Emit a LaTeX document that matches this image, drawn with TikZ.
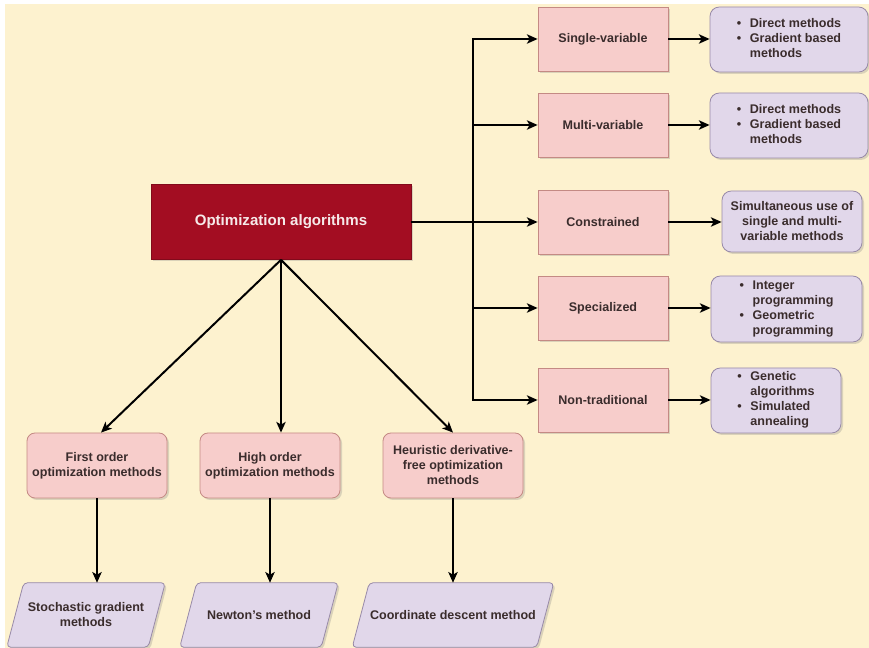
\documentclass[tikz,border=0pt]{standalone}
\usepackage{fontspec}
\setmainfont{Liberation Sans}
\usetikzlibrary{arrows.meta,shapes.geometric,shadows,calc}

\definecolor{bgyellow}{HTML}{FDF2CF}
\definecolor{mainred}{HTML}{A30D22}
\definecolor{maintext}{HTML}{F6E9E9}
\definecolor{pinkfill}{HTML}{F7CDCB}
\definecolor{pinkline}{HTML}{C48A84}
\definecolor{lilacfill}{HTML}{E1D7EA}
\definecolor{lilacline}{HTML}{988AA8}
\definecolor{txt}{HTML}{3A2C2C}

% bullet list used inside the lilac boxes
\newcommand{\itemlist}[1]{\begin{tabular}{@{}c@{\hspace{6.5pt}}l@{}}#1\end{tabular}}
\newcommand{\bul}{\textbullet}

\pgfdeclarelayer{page}
\pgfdeclarelayer{shapes}
\pgfsetlayers{page,shapes,main}

\begin{document}
\begin{tikzpicture}[x=0.75pt,y=-0.75pt,
  every node/.style={font=\bfseries\fontsize{9.4}{11.25}\selectfont, text=txt,
    inner sep=0pt, align=center},
  softshadow/.style={drop shadow={opacity=0.28,shadow xshift=1.5pt,shadow yshift=-1.5pt}},
  rootbox/.style={rectangle, fill=mainred, draw=mainred!80!black, line width=0.5pt,
    softshadow, minimum width=195pt, minimum height=56.25pt, text=maintext,
    font=\bfseries\fontsize{11.3}{13}\selectfont},
  catbox/.style={rectangle, draw=pinkline, fill=pinkfill, line width=0.6pt, softshadow,
    minimum width=97.5pt, minimum height=48pt},
  orderbox/.style={rectangle, rounded corners=6pt, draw=pinkline, fill=pinkfill,
    line width=0.6pt, softshadow, minimum width=105pt, minimum height=48.75pt},
  listbox/.style={rectangle, rounded corners=7pt, draw=lilacline, fill=lilacfill,
    line width=0.6pt, softshadow, minimum height=48.75pt},
  methodbox/.style={rectangle, minimum height=48pt},
  slanted/.style={draw=lilacline, fill=lilacfill, line width=0.6pt, rounded corners=3pt,
    softshadow},
  link/.style={line width=1.5pt, black},
  arrowlink/.style={link, -{Stealth[length=8pt,width=7pt,inset=2pt]}}
]
% page background
\useasboundingbox (0,0) rectangle (869,648);
\begin{pgfonlayer}{page}
  \fill[white] (0,0) rectangle (869,648);
  \fill[bgyellow] (5,4) rectangle (869,648);
\end{pgfonlayer}

% root
\node[rootbox] (root) at (281,222) {Optimization algorithms};

% problem categories
\node[catbox] (single) at (603,39)  {Single-variable};
\node[catbox] (multi)  at (603,125) {Multi-variable};
\node[catbox] (constr) at (603,222) {Constrained};
\node[catbox] (spec)   at (603,308) {Specialized};
\node[catbox] (nontr)  at (603,400) {Non-traditional};

% methods per category
\node[listbox, minimum width=118.5pt] (singlem) at (789,39.5)
  {\itemlist{\bul & Direct methods\\ \bul & Gradient based\\ & methods}};
\node[listbox, minimum width=118.5pt] (multim) at (789,125.5)
  {\itemlist{\bul & Direct methods\\ \bul & Gradient based\\ & methods}};
\node[listbox, minimum width=105pt, minimum height=45.75pt] (constrm) at (792,221.5)
  {Simultaneous use of\\single and multi-\\variable methods};
\node[listbox, minimum width=113.25pt, minimum height=49.5pt] (specm) at (786.5,309)
  {\itemlist{\bul & Integer\\ & programming\\ \bul & Geometric\\ & programming}};
\node[listbox, minimum width=97.5pt] (nontrm) at (776,400.5)
  {\itemlist{\bul & Genetic\\ & algorithms\\ \bul & Simulated\\ & annealing}};

% order-based families
\node[orderbox] (first) at (97,465.5)  {First order\\optimization methods};
\node[orderbox] (high)  at (270,465.5) {High order\\optimization methods};
\node[orderbox] (heur)  at (453,465.5) {Heuristic derivative-\\free optimization\\methods};

% representative methods (text nodes; slanted outlines drawn below them)
\node[methodbox, minimum width=105.75pt] (sgd)    at (86,615)  {Stochastic gradient\\methods};
\node[methodbox, minimum width=105.75pt] (newton) at (259,615) {Newton's method};
\node[methodbox, minimum width=138pt]    (coord)  at (453,615) {Coordinate descent method};

\begin{pgfonlayer}{shapes}
  \foreach \m in {sgd,newton,coord}{
    \draw[slanted] ($(\m.south west)+(-8.5,0)$) -- ($(\m.north west)+(8.5,0)$)
      -- ($(\m.north east)+(8.5,0)$) -- ($(\m.south east)+(-8.5,0)$) -- cycle;
  }
\end{pgfonlayer}

% branching bus to the categories
\coordinate (hub) at (473,222);
\draw[link] (root.east) -- (hub);
\draw[arrowlink] (hub) |- (single.west);
\draw[arrowlink] (hub) |- (multi.west);
\draw[arrowlink] (hub) -- (constr.west);
\draw[arrowlink] (hub) |- (spec.west);
\draw[arrowlink] (hub) |- (nontr.west);

% categories to their methods
\draw[arrowlink] (single.east) -- (single.east -| singlem.west);
\draw[arrowlink] (multi.east)  -- (multi.east -| multim.west);
\draw[arrowlink] (constr.east) -- (constr.east -| constrm.west);
\draw[arrowlink] (spec.east)   -- (spec.east -| specm.west);
\draw[arrowlink] (nontr.east)  -- (nontr.east -| nontrm.west);

% root to the order-based families
\draw[arrowlink] (root.south) -- ($(first.north)+(4,0)$);
\draw[arrowlink] (root.south) -- (root.south |- high.north);
\draw[arrowlink] (root.south) -- (heur.north);

% families to methods
\draw[arrowlink] (first.south) -- (first.south |- sgd.north);
\draw[arrowlink] (high.south)  -- (high.south |- newton.north);
\draw[arrowlink] (heur.south)  -- (heur.south |- coord.north);
\end{tikzpicture}
\end{document}
